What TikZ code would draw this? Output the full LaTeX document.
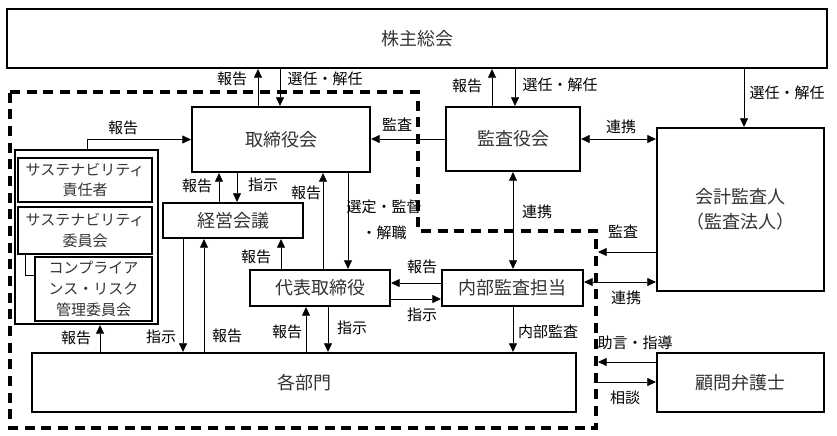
\documentclass[tikz,border=0pt]{standalone}
\usepackage{fontspec}
\setmainfont{Noto Sans CJK JP}
\usetikzlibrary{arrows.meta}

\begin{document}
\begin{tikzpicture}[x=0.75pt, y=-0.75pt, >={Triangle[length=6.5pt,width=6pt]},
    box/.style={draw, line width=1.6pt, inner sep=0pt, text=black!80, font=\fontsize{13.5}{19}\selectfont},
    sbox/.style={box, align=center, font=\fontsize{11.25}{15.5}\selectfont},
    lbl/.style={inner sep=0pt, font=\fontsize{11.25}{19.5}\selectfont},
    arr/.style={->, line width=0.6pt}]
    \useasboundingbox (0,0) rectangle (837,435);

    % company boundary
    \draw[line width=2.8pt, dash pattern=on 7.5pt off 5pt] (10,92) -- (418,92) -- (418,231) -- (596,231) -- (596,428) -- (10,428) -- cycle;
    \coordinate (edge) at (598,231);

    \node[box, minimum width=820*.75pt, minimum height=59*.75pt] (soukai) at (417,38.5) {株主総会};
    \node[box, minimum width=178*.75pt, minimum height=65*.75pt] (torishimari) at (281,139.5) {取締役会};
    \node[box, minimum width=134*.75pt, minimum height=64*.75pt] (kansayaku) at (513,139) {監査役会};
    \node[box, align=center, minimum width=167*.75pt, minimum height=163*.75pt] (kaikei) at (740.5,209.5) {会計監査人\\（監査法人）};
    \node[box, minimum width=167*.75pt, minimum height=59*.75pt] (bengoshi) at (740.5,382.5) {顧問弁護士};
    \node[box, minimum width=141*.75pt, minimum height=36*.75pt] (naibu) at (512.5,288) {内部監査担当};
    \node[box, minimum width=140*.75pt, minimum height=36*.75pt] (daihyo) at (320,288) {代表取締役};
    \node[box, minimum width=140*.75pt, minimum height=35*.75pt] (keiei) at (233,220.5) {経営会議};
    \node[box, minimum width=544*.75pt, minimum height=59*.75pt] (bumon) at (304,382.5) {各部門};

    % committees
    \node[box, minimum width=143*.75pt, minimum height=174*.75pt] (group) at (86.5,237) {};
    \node[sbox, minimum width=134*.75pt, minimum height=44*.75pt] (sekinin) at (85,180) {サステナビリティ\\責任者};
    \node[sbox, minimum width=134*.75pt, minimum height=47*.75pt] (iinkai) at (85,230.5) {サステナビリティ\\委員会};
    \node[sbox, minimum width=117*.75pt, minimum height=64*.75pt] (compliance) at (93.5,289) {コンプライア\\ンス・リスク\\管理委員会};
    \draw[line width=0.6pt] (iinkai.south -| 25,0) |- (compliance.west |- 0,275);

    % shareholders
    \draw[arr] (torishimari.north -| 258,0) -- (soukai.south -| 258,0);
    \draw[arr] (soukai.south -| 280,0) -- (torishimari.north -| 280,0);
    \draw[arr] (kansayaku.north -| 492,0) -- (soukai.south -| 492,0);
    \draw[arr] (soukai.south -| 515,0) -- (kansayaku.north -| 515,0);
    \draw[arr] (soukai.south -| 744,0) -- (kaikei.north -| 744,0);
    \node[lbl] (rep1) at (232,79) {報告};
    \node[lbl] (sel1) at (325,79) {選任・解任};
    \node[lbl] (rep2) at (467,86) {報告};
    \node[lbl] (sel2) at (560,85) {選任・解任};
    \node[lbl] (sel3) at (787,93) {選任・解任};

    % board
    \draw[arr] (group.north -| 87,0) |- (torishimari.west);
    \draw[arr] (kansayaku.west) -- (torishimari.east |- kansayaku.west);
    \draw[arr, <->] (kansayaku.east) -- (kaikei.west |- kansayaku.east);
    \draw[arr] (keiei.north -| 219,0) -- (torishimari.south -| 219,0);
    \draw[arr] (torishimari.south -| 237,0) -- (keiei.north -| 237,0);
    \draw[arr] (daihyo.north -| 323,0) -- (torishimari.south -| 323,0);
    \draw[arr] (torishimari.south -| 348,0) -- (daihyo.north -| 348,0);
    \node[lbl] (rep3) at (123,128) {報告};
    \node[lbl] (aud1) at (397,125) {監査};
    \node[lbl] (coop1) at (621,127) {連携};
    \node[lbl] (rep4) at (197,186) {報告};
    \node[lbl] (ins1) at (263,185) {指示};
    \node[lbl] (rep5) at (306,193) {報告};
    \node[lbl, align=center] (appoint) at (384,220) {選定・監督\\・解職};

    % management
    \draw[arr] (keiei.south -| 183,0) -- (bumon.north -| 183,0);
    \draw[arr] (bumon.north -| 204,0) -- (keiei.south -| 204,0);
    \draw[arr] (daihyo.north -| 281,0) -- (keiei.south -| 281,0);
    \draw[arr] (bumon.north -| 306,0) -- (daihyo.south -| 306,0);
    \draw[arr] (daihyo.south -| 328,0) -- (bumon.north -| 328,0);
    \draw[arr] (bumon.north -| 100,0) -- (group.south -| 100,0);
    \node[lbl] (rep6) at (256,257) {報告};
    \node[lbl] (rep7) at (76,338) {報告};
    \node[lbl] (ins2) at (161,337) {指示};
    \node[lbl] (rep8) at (227,336) {報告};
    \node[lbl] (rep9) at (287,332) {報告};
    \node[lbl] (ins3) at (352,328) {指示};

    % internal audit
    \draw[arr] (naibu.west |- 0,283) -- (daihyo.east |- 0,283);
    \draw[arr] (daihyo.east |- 0,299) -- (naibu.west |- 0,299);
    \draw[arr, <->] (naibu.north -| 513,0) -- (kansayaku.south -| 513,0);
    \draw[arr] (naibu.south -| 513,0) -- (bumon.north -| 513,0);
    \node[lbl] (rep10) at (422,267) {報告};
    \node[lbl] (ins4) at (422,315) {指示};
    \node[lbl] (coop2) at (537,212) {連携};
    \node[lbl] (intaud) at (548,332) {内部監査};

    % outside
    \draw[arr] (kaikei.west |- 0,252) -- (edge |- 0,252);
    \draw[arr, <->] (naibu.east |- 0,282) -- (kaikei.west |- 0,282);
    \draw[arr] (bengoshi.west |- 0,362) -- (edge |- 0,362);
    \draw[arr] (edge |- 0,382) -- (bengoshi.west |- 0,382);
    \node[lbl] (aud2) at (623,232) {監査};
    \node[lbl] (coop3) at (626,298) {連携};
    \node[lbl] (advice) at (635,343) {助言・指導};
    \node[lbl] (consult) at (625,398) {相談};

\end{tikzpicture}
\end{document}
